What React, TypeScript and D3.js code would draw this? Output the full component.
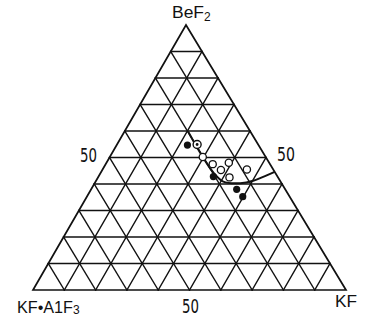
import React from "react";
import * as d3 from "d3";

// Ternary composition diagram: BeF2 (top) – KF·AlF3 (left) – KF (right), mol %
const divisions = d3.range(1, 10).map((i) => i * 10);
const scaleLabels = ["50", "50", "50"];
const vertexLabels = { top: "BeF", left: "KF•A1F", right: "KF" };

// [BeF2, KF] in %, remainder is KF·AlF3
const filledPoints: [number, number][] = [
  [54.7, 22.6],
  [42.8, 36.7],
  [38.0, 46.5],
  [35.2, 49.8],
];
const dottedPoints: [number, number][] = [[54.9, 25.6]];
const openPoints: [number, number][] = [
  [50.2, 29.7],
  [47.5, 34.2],
  [45.3, 37.9],
  [48.0, 39.1],
  [45.5, 46.1],
  [42.5, 42.0],
];
const boundaryCurve: [number, number][] = [
  [59.7, 20.4],
  [50.3, 29.6],
  [44.3, 36.0],
  [40.9, 40.8],
  [40.3, 46.5],
  [41.2, 50.2],
  [43.0, 53.1],
  [44.6, 55.4],
];

const W = 366;
const H = 321;
const apex = { x: 186, y: 25 };
const left = { x: 33, y: 290 };
const right = { x: 346, y: 290 };

const frac = d3.scaleLinear().domain([0, 100]).range([0, 1]);

function project(bef: number, kf: number): [number, number] {
  const b = frac(bef);
  const k = frac(kf);
  const a = 1 - b - k;
  return [
    a * left.x + k * right.x + b * apex.x,
    a * left.y + k * right.y + b * apex.y,
  ];
}

export default function App() {
  const line = d3.line<[number, number]>().curve(d3.curveCatmullRom.alpha(0.5));

  // grid lines parallel to each side
  const grid: [[number, number], [number, number]][] = [];
  divisions.forEach((v) => {
    grid.push([project(v, 0), project(v, 100 - v)]);
    grid.push([project(0, v), project(100 - v, v)]);
    grid.push([project(0, 100 - v), project(100 - v, 0)]);
  });

  const edge = [
    [apex.x, apex.y],
    [left.x, left.y],
    [right.x, right.y],
  ] as [number, number][];

  const narrow = "'Liberation Sans Narrow', 'DejaVu Sans Condensed', 'Liberation Sans', Arial, sans-serif";
  const sans = "'Liberation Sans', Arial, sans-serif";

  return (
    <svg
      width={W}
      height={H}
      viewBox={`0 0 ${W} ${H}`}
      style={{ position: "absolute", left: 0, top: 0, background: "#fff" }}
    >
      <g stroke="#111" fill="none" strokeLinecap="square">
        {grid.map(([p, q], i) => (
          <line key={i} x1={p[0]} y1={p[1]} x2={q[0]} y2={q[1]} strokeWidth={1.4} />
        ))}
        <path d={d3.line()(edge)! + "Z"} strokeWidth={1.7} strokeLinejoin="miter" />
      </g>

      <path
        d={line(boundaryCurve.map(([b, k]) => project(b, k)))!}
        fill="none"
        stroke="#111"
        strokeWidth={2}
      />

      {openPoints.map(([b, k], i) => {
        const [x, y] = project(b, k);
        return <circle key={"o" + i} cx={x} cy={y} r={3.6} fill="#fff" stroke="#111" strokeWidth={1.3} />;
      })}
      {dottedPoints.map(([b, k], i) => {
        const [x, y] = project(b, k);
        return (
          <g key={"d" + i}>
            <circle cx={x} cy={y} r={4} fill="#fff" stroke="#111" strokeWidth={1.4} />
            <circle cx={x} cy={y} r={1.4} fill="#111" />
          </g>
        );
      })}
      {filledPoints.map(([b, k], i) => {
        const [x, y] = project(b, k);
        return <circle key={"f" + i} cx={x} cy={y} r={3.6} fill="#111" />;
      })}

      <g fill="#111">
        <text x={172} y={18} fontSize={16} fontFamily={sans}>
          <tspan textLength={32} lengthAdjust="spacingAndGlyphs">{vertexLabels.top}</tspan>
          <tspan fontSize={12} dy={3}>2</tspan>
        </text>
        <text x={17} y={313} fontSize={16} fontFamily={sans}>
          <tspan textLength={56} lengthAdjust="spacingAndGlyphs">{vertexLabels.left}</tspan>
          <tspan fontSize={12} dy={1}>3</tspan>
        </text>
        <text x={335} y={307} fontSize={16.5} fontFamily={sans} textLength={22} lengthAdjust="spacingAndGlyphs">
          {vertexLabels.right}
        </text>
        <text x={80} y={162} fontSize={19} fontFamily={narrow} textLength={17} lengthAdjust="spacingAndGlyphs">
          {scaleLabels[0]}
        </text>
        <text x={277} y={161} fontSize={19} fontFamily={narrow} textLength={18} lengthAdjust="spacingAndGlyphs">
          {scaleLabels[1]}
        </text>
        <text x={182} y={313} fontSize={19} fontFamily={narrow} textLength={17} lengthAdjust="spacingAndGlyphs">
          {scaleLabels[2]}
        </text>
      </g>
    </svg>
  );
}
